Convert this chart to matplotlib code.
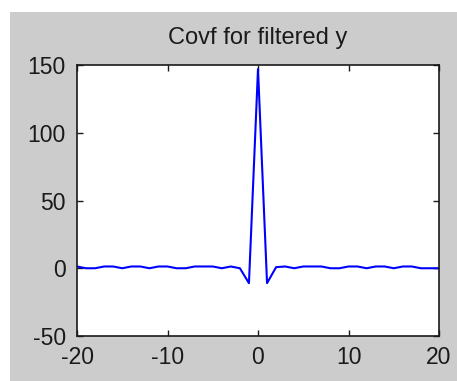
import numpy as np
import matplotlib
matplotlib.use("Agg")
import matplotlib.pyplot as plt
from matplotlib.patches import Rectangle

# Data: lags and covariance values
lags = list(range(-20, 21))
covf = [1.3, 0.0, 0.0, 1.3, 1.3, 0.0, 1.3, 1.3, 0.0, 1.3,
        1.3, 0.0, 0.0, 1.3, 1.3, 1.3, 0.0, 1.3, 0.0, -11.0,
        147.0,
        -11.0, 0.8, 1.3, 0.0, 1.3, 1.3, 1.3, 0.0, 0.0, 1.3,
        1.3, 0.0, 1.3, 1.3, 0.0, 1.3, 1.3, 0.0, 0.0, 0.0]
title_text = "Covf for filtered y"
xticks = [-20, -10, 0, 10, 20]
yticks = [-50, 0, 50, 100, 150]

plt.rcParams['font.family'] = ['Liberation Sans', 'DejaVu Sans']
plt.rcParams['axes.unicode_minus'] = False

W, H = 457, 381
fig = plt.figure(figsize=(W / 100, H / 100), dpi=100, facecolor='white')
bg = Rectangle((10 / W, 0), (W - 10) / W, (H - 12) / H,
               transform=fig.transFigure, facecolor='#cccccc',
               edgecolor='none', zorder=-10)
fig.add_artist(bg)

left, right, top, bottom = 77, 439, 65, 336
ax = fig.add_axes([left / W, 1 - bottom / H, (right - left) / W, (bottom - top) / H])
ax.set_zorder(5)
ax.set_facecolor('white')
ax.plot(lags, covf, color='#0000ff', linewidth=1.5)
ax.set_xlim(-20, 20)
ax.set_ylim(-50, 150)
ax.set_xticks(xticks)
ax.set_yticks(yticks)
ax.tick_params(direction='in', length=4, width=1, top=True, right=True,
               labelsize=16.5, colors='#1a1a1a')
ax.tick_params(axis='x', pad=7)
ax.tick_params(axis='y', pad=8)
for s in ax.spines.values():
    s.set_linewidth(1.2)
    s.set_color('#1a1a1a')
ax.set_title(title_text, fontsize=17, color='#1a1a1a', pad=15)

fig.savefig('out.png', dpi=100, facecolor=fig.get_facecolor())
